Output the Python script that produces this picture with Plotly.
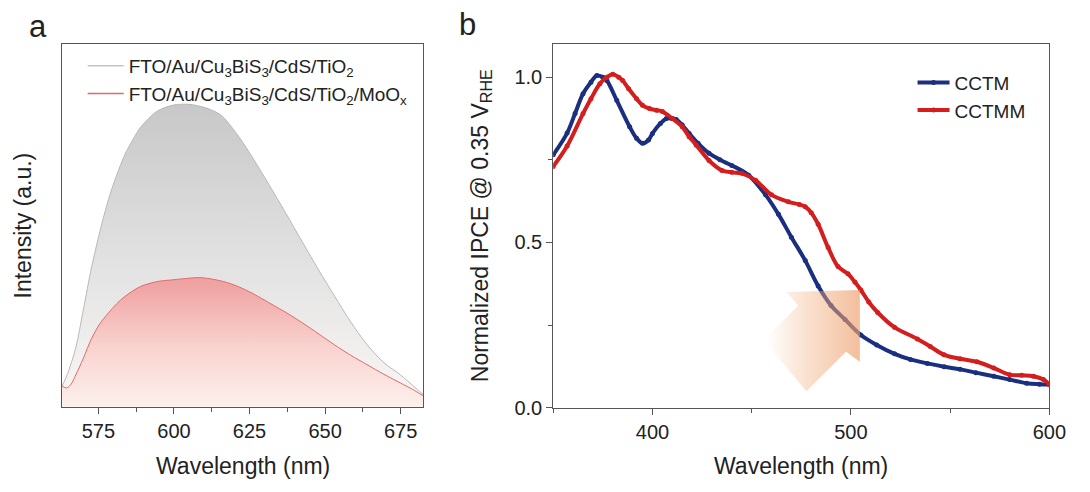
import plotly.graph_objects as go

# ---------------- Panel a : PL spectra ----------------
PL_WL_GRAY = [563, 565, 567.5, 570, 572.7, 575.5, 578.3, 581, 583.8, 586.5, 589, 594.5, 600, 605, 610,
              615.5, 620.6, 625, 631.4, 637, 642.4, 648, 653.2, 658.5, 663.9, 669.5, 675, 679, 682.5]
PL_GRAY = [0.068, 0.115, 0.195, 0.32, 0.46, 0.58, 0.685, 0.765, 0.835, 0.885, 0.925, 0.978, 0.998, 1.0, 0.99,
           0.965, 0.905, 0.84, 0.735, 0.64, 0.546, 0.45, 0.365, 0.28, 0.205, 0.145, 0.105, 0.07, 0.04]

PL_WL_RED = [563, 564.5, 566, 567.5, 570, 572.7, 575.5, 578.3, 581, 583.8, 589, 594.5, 600, 605, 608.5,
             612, 616.4, 620.6, 625, 629, 633, 637, 642.4, 648, 653.2, 658.5, 663.9, 669.5, 675, 679, 682.5]
PL_RED = [0.068, 0.062, 0.075, 0.105, 0.16, 0.225, 0.275, 0.31, 0.34, 0.365, 0.398, 0.414, 0.42, 0.425, 0.427,
          0.423, 0.414, 0.40, 0.38, 0.358, 0.335, 0.312, 0.278, 0.24, 0.204, 0.17, 0.139, 0.107, 0.078, 0.057, 0.036]

PL_NAMES = ["FTO/Au/Cu<sub>3</sub>BiS<sub>3</sub>/CdS/TiO<sub>2</sub>",
            "FTO/Au/Cu<sub>3</sub>BiS<sub>3</sub>/CdS/TiO<sub>2</sub>/MoO<sub>x</sub>"]
PL_TICKS = [575, 600, 625, 650, 675]

# ---------------- Panel b : IPCE ----------------
WL_CCTM = [350, 357, 361, 365, 369, 372, 375, 377, 382, 388.5, 392, 395, 398, 400, 404, 407, 410, 412,
           415, 418.5, 423, 428.5, 434, 440, 448.5, 457, 463.5, 470, 477, 483.5, 490, 497, 505, 513,
           522, 530, 538.5, 547, 555, 563, 572, 580, 588.5, 595, 600]
IPCE_CCTM = [0.765, 0.831, 0.89, 0.95, 0.985, 1.005, 1.0, 0.99, 0.93, 0.85, 0.815, 0.80, 0.81, 0.83,
             0.86, 0.875, 0.875, 0.872, 0.855, 0.83, 0.80, 0.77, 0.75, 0.733, 0.703, 0.644, 0.585, 0.516,
             0.445, 0.368, 0.309, 0.267, 0.22, 0.19, 0.163, 0.146, 0.134, 0.124, 0.116, 0.106, 0.095,
             0.085, 0.074, 0.071, 0.07]

WL_CCTMM = [350, 357, 365, 369, 373.5, 377, 380, 383, 385, 388, 392, 395, 398.5, 402, 405, 410, 415,
            418.5, 422, 428.5, 435, 440, 445, 452, 460, 468.5, 474, 477, 480, 483.5, 488.5, 493.5,
            498.5, 502, 505, 509, 513.5, 522, 533.5, 540, 547, 555, 563.5, 572, 580, 586, 592, 597, 600]
IPCE_CCTMM = [0.73, 0.792, 0.89, 0.935, 0.98, 1.0, 1.009, 1.0, 0.99, 0.965, 0.935, 0.915, 0.905, 0.9,
              0.896, 0.875, 0.85, 0.82, 0.795, 0.748, 0.718, 0.712, 0.709, 0.688, 0.644, 0.623, 0.615,
              0.608, 0.59, 0.555, 0.485, 0.427, 0.405, 0.38, 0.356, 0.32, 0.288, 0.243, 0.208, 0.185,
              0.16, 0.148, 0.139, 0.12, 0.10, 0.098, 0.095, 0.085, 0.07]

IPCE_NAMES = ["CCTM", "CCTMM"]

# decorative arrow outline (panel b, data units)
ARROW_X = [467.5, 504.5, 504.5, 497.5, 477.5, 456, 473.5, 467.5]
ARROW_Y = [0.350, 0.356, 0.139, 0.169, 0.050, 0.205, 0.309, 0.350]

FONT = "Arial, Liberation Sans, sans-serif"
TXT = "#222222"
W, H = 1090, 492

fig = go.Figure()

fig.add_trace(go.Scatter(
    x=PL_WL_GRAY, y=PL_GRAY, mode="lines", line=dict(color="#b8b8b8", width=1, shape="spline", smoothing=0.8),
    fill="tozeroy",
    fillgradient=dict(type="vertical", start=0, stop=1.0,
                      colorscale=[[0, "rgb(252,249,246)"], [0.45, "rgb(228,228,228)"], [1, "rgb(200,200,200)"]]),
    showlegend=False, xaxis="x", yaxis="y", hoverinfo="skip"))
fig.add_trace(go.Scatter(
    x=PL_WL_RED, y=PL_RED, mode="lines", line=dict(color="#e06a6a", width=1, shape="spline", smoothing=0.8),
    fill="tozeroy",
    fillgradient=dict(type="vertical", start=0, stop=0.427,
                      colorscale=[[0, "rgb(253,244,241)"], [0.5, "rgb(249,212,208)"], [1, "rgb(239,162,162)"]]),
    showlegend=False, xaxis="x", yaxis="y", hoverinfo="skip"))
for nm, col in zip(PL_NAMES, ["#c4c4c4", "#e06a6a"]):
    fig.add_trace(go.Scatter(x=[None], y=[None], mode="lines", name=nm,
                             line=dict(color=col, width=1.5), legend="legend",
                             xaxis="x", yaxis="y"))

fig.add_trace(go.Scatter(
    x=WL_CCTM, y=IPCE_CCTM, name=IPCE_NAMES[0], mode="lines+markers",
    line=dict(color="#1b2f80", width=4, shape="spline"), marker=dict(size=5, color="#1b2f80"),
    legend="legend2", xaxis="x2", yaxis="y2"))
fig.add_trace(go.Scatter(
    x=WL_CCTMM, y=IPCE_CCTMM, name=IPCE_NAMES[1], mode="lines+markers",
    line=dict(color="#d41e1e", width=4, shape="spline"), marker=dict(size=5, color="#d41e1e"),
    legend="legend2", xaxis="x2", yaxis="y2"))

fig.add_trace(go.Scatter(
    x=ARROW_X, y=ARROW_Y, mode="lines", line=dict(width=0), fill="toself",
    fillgradient=dict(type="horizontal", start=456, stop=504.5,
                      colorscale=[[0, "rgba(240,170,120,0)"], [0.4, "rgba(240,170,120,0.35)"],
                                  [1, "rgba(238,160,110,0.72)"]]),
    showlegend=False, xaxis="x2", yaxis="y2", hoverinfo="skip"))

axis_common = dict(showline=True, mirror=True, linecolor="#555555", linewidth=1,
                   showgrid=False, zeroline=False, ticks="outside", ticklen=6, tickcolor="#555555",
                   tickfont=dict(family=FONT, size=20, color=TXT))

TOP = 45.5
fig.update_layout(
    width=W, height=H, margin=dict(l=0, r=0, t=0, b=0),
    paper_bgcolor="white", plot_bgcolor="white",
    font=dict(family=FONT, color=TXT),
    xaxis=dict(domain=[63 / W, 430 / W], range=[562.95, 682.5], tickvals=PL_TICKS,
               minor=dict(ticks="outside", ticklen=4, dtick=12.5, tick0=575, tickcolor="#555555"),
               anchor="y", **axis_common),
    yaxis=dict(domain=[(H - 416) / H, (H - TOP) / H], range=[0, 1.198], showticklabels=False,
               anchor="x", **{k: v for k, v in axis_common.items() if k != "ticks"}, ticks=""),
    xaxis2=dict(domain=[562 / W, 1066 / W], range=[350, 600], tickvals=[400, 500, 600],
                minor=dict(ticks="outside", ticklen=4, dtick=50, tick0=350, tickcolor="#555555"),
                anchor="y2", **axis_common),
    yaxis2=dict(domain=[(H - 417) / H, (H - TOP) / H], range=[0, 1.099], tickvals=[0, 0.5, 1.0],
                ticktext=["0.0", "0.5", "1.0"],
                minor=dict(ticks="outside", ticklen=4, dtick=0.25, tick0=0, tickcolor="#555555"),
                anchor="x2", **axis_common),
    legend=dict(x=84 / W, y=1 - 48 / H, xanchor="left", yanchor="top", bgcolor="rgba(0,0,0,0)",
                font=dict(family=FONT, size=19, color=TXT), itemwidth=36),
    legend2=dict(x=927 / W, y=1 - 65 / H, xanchor="left", yanchor="top", bgcolor="rgba(0,0,0,0)",
                 font=dict(family=FONT, size=19, color=TXT), itemwidth=32),
    annotations=[
        dict(text="a", x=39 / W, y=1 - 27 / H, xref="paper", yref="paper", showarrow=False,
             font=dict(family=FONT, size=31, color=TXT), xanchor="center", yanchor="middle"),
        dict(text="b", x=475 / W, y=1 - 25 / H, xref="paper", yref="paper", showarrow=False,
             font=dict(family=FONT, size=31, color=TXT), xanchor="center", yanchor="middle"),
        dict(text="Intensity (a.u.)", x=23 / W, y=1 - 231 / H, xref="paper", yref="paper",
             showarrow=False, textangle=-90, font=dict(family=FONT, size=23, color=TXT),
             xanchor="center", yanchor="middle"),
        dict(text="Wavelength (nm)", x=247 / W, y=1 - 477 / H, xref="paper", yref="paper",
             showarrow=False, font=dict(family=FONT, size=23, color=TXT),
             xanchor="center", yanchor="middle"),
        dict(text="Normalized IPCE @ 0.35 V<sub>RHE</sub>", x=489 / W, y=1 - 231 / H,
             xref="paper", yref="paper", showarrow=False, textangle=-90,
             font=dict(family=FONT, size=23, color=TXT), xanchor="center", yanchor="middle"),
        dict(text="Wavelength (nm)", x=814 / W, y=1 - 477 / H, xref="paper", yref="paper",
             showarrow=False, font=dict(family=FONT, size=23, color=TXT),
             xanchor="center", yanchor="middle"),
    ],
)

fig.write_html("out.html")
